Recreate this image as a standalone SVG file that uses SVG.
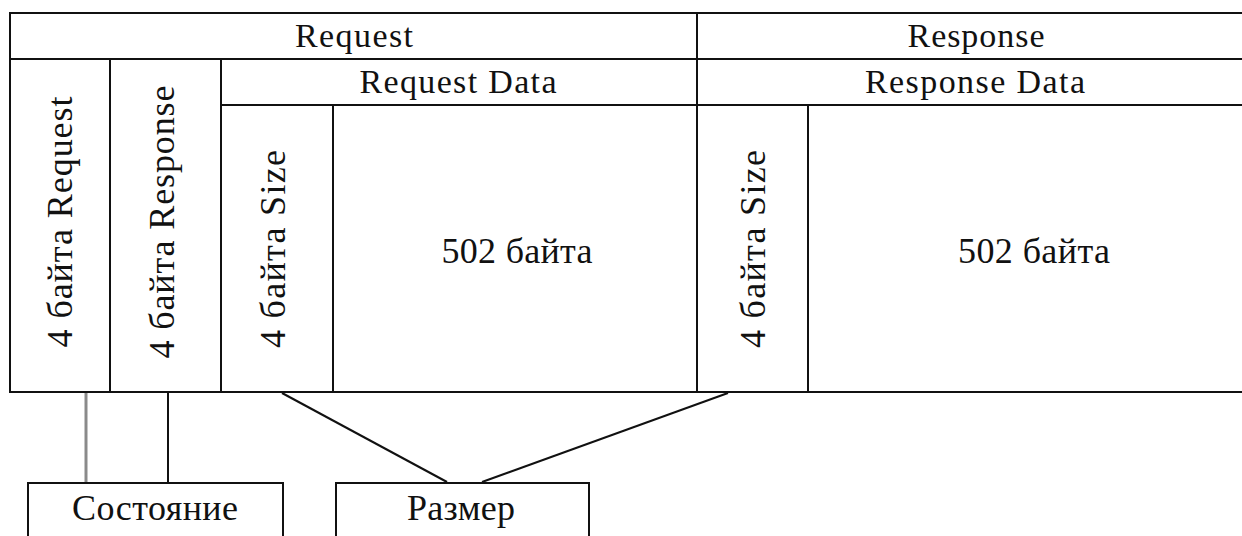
<svg xmlns="http://www.w3.org/2000/svg" width="1242" height="536" viewBox="0 0 1242 536">
<style>
  .cell { fill: #ffffff; stroke: #111111; stroke-width: 2; }
  .t { fill: #111111; text-anchor: middle; }
  .h { font-size: 34px; }
  .b { font-size: 36px; }
  .conn { stroke: #111111; stroke-width: 2; fill: none; }
  .conn-gray { stroke: #8a8a8a; stroke-width: 3; fill: none; }
</style>
<rect x="0" y="0" width="1242" height="536" fill="#ffffff"/>
<g font-family="'Liberation Serif', 'DejaVu Serif', serif">
<g id="request-header">
  <rect class="cell" x="10" y="13" width="687" height="46"/>
  <text class="t h" x="354" y="47" textLength="118" lengthAdjust="spacing">Request</text>
</g>
<g id="response-header">
  <rect class="cell" x="697" y="13" width="560" height="46"/>
  <text class="t h" x="976" y="47" textLength="137" lengthAdjust="spacing">Response</text>
</g>
<g id="request-status">
  <rect class="cell" x="10" y="59" width="100" height="333"/>
  <text class="t b" transform="translate(72,222) rotate(-90)" x="0" y="0" textLength="251" lengthAdjust="spacing">4 байта Request</text>
</g>
<g id="response-status">
  <rect class="cell" x="110" y="59" width="111" height="333"/>
  <text class="t b" transform="translate(174,222) rotate(-90)" x="0" y="0" textLength="273" lengthAdjust="spacing">4 байта Response</text>
</g>
<g id="request-data-header">
  <rect class="cell" x="221" y="59" width="476" height="46"/>
  <text class="t h" x="458" y="93" textLength="197" lengthAdjust="spacing">Request Data</text>
</g>
<g id="response-data-header">
  <rect class="cell" x="697" y="59" width="560" height="46"/>
  <text class="t h" x="975" y="93" textLength="220" lengthAdjust="spacing">Response Data</text>
</g>
<g id="request-size">
  <rect class="cell" x="221" y="105" width="112" height="287"/>
  <text class="t b" transform="translate(285,249) rotate(-90)" x="0" y="0" textLength="198" lengthAdjust="spacing">4 байта Size</text>
</g>
<g id="request-payload">
  <rect class="cell" x="333" y="105" width="364" height="287"/>
  <text class="t b" x="517" y="263" textLength="151" lengthAdjust="spacing">502 байта</text>
</g>
<g id="response-size">
  <rect class="cell" x="697" y="105" width="111" height="287"/>
  <text class="t b" transform="translate(765,249) rotate(-90)" x="0" y="0" textLength="198" lengthAdjust="spacing">4 байта Size</text>
</g>
<g id="response-payload">
  <rect class="cell" x="808" y="105" width="449" height="287"/>
  <text class="t b" x="1034" y="263" textLength="152" lengthAdjust="spacing">502 байта</text>
</g>
<g id="status-box">
  <rect class="cell" x="28" y="483" width="255" height="80"/>
  <text class="t b" x="155" y="520" textLength="166" lengthAdjust="spacing">Состояние</text>
</g>
<g id="size-box">
  <rect class="cell" x="336" y="483" width="253" height="80"/>
  <text class="t b" x="461" y="520" textLength="108" lengthAdjust="spacing">Размер</text>
</g>
</g>
<g id="connectors">
  <line class="conn-gray" x1="86" y1="393" x2="86" y2="482"/>
  <line class="conn" x1="168" y1="393" x2="168" y2="482"/>
  <line class="conn" x1="282" y1="393" x2="447" y2="482"/>
  <line class="conn" x1="482" y1="482" x2="728" y2="393"/>
</g>
</svg>
